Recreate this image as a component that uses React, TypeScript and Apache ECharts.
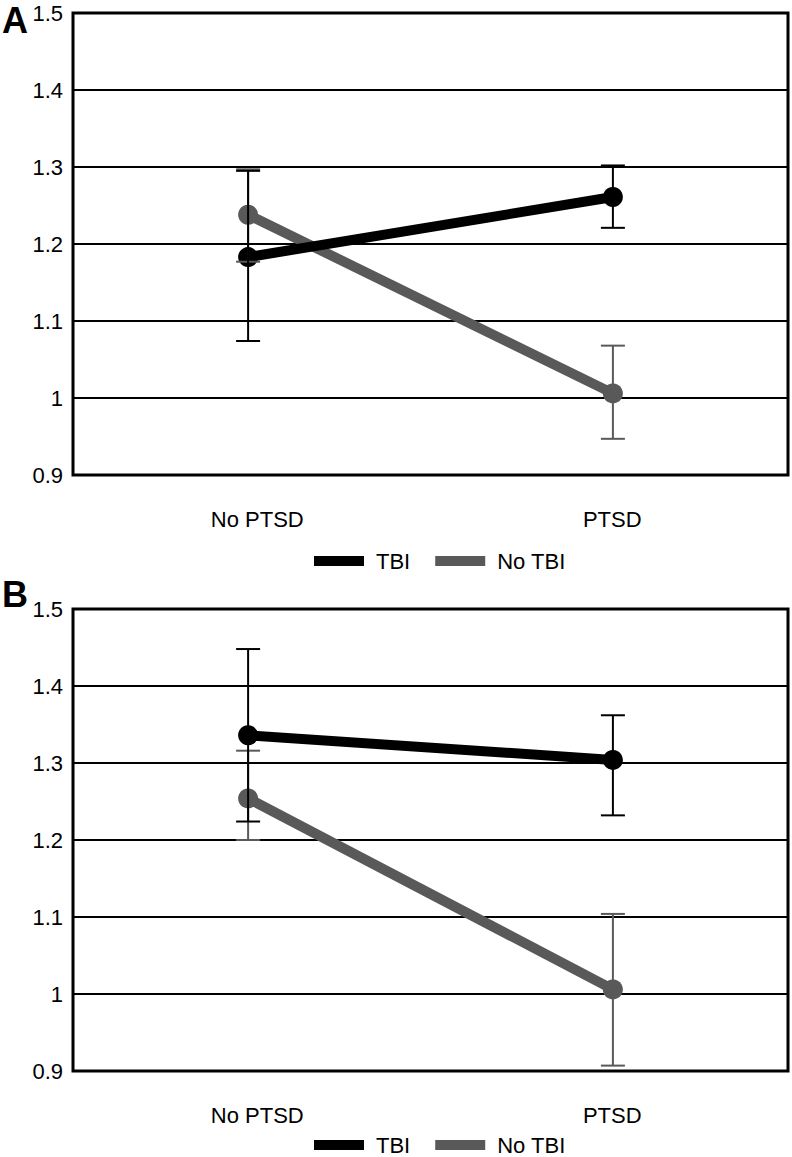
import React, { useEffect, useRef } from "react";
import * as echarts from "echarts";

const categories = ["No PTSD", "PTSD"];
const yTicks = [0.9, 1.0, 1.1, 1.2, 1.3, 1.4, 1.5];

// Panel A
const aTbi = [1.183, 1.261];
const aTbiLow = [1.074, 1.221];
const aTbiHigh = [1.295, 1.302];
const aNoTbi = [1.238, 1.006];
const aNoTbiLow = [1.177, 0.947];
const aNoTbiHigh = [1.297, 1.068];

// Panel B
const bTbi = [1.336, 1.304];
const bTbiLow = [1.224, 1.232];
const bTbiHigh = [1.448, 1.362];
const bNoTbi = [1.254, 1.006];
const bNoTbiLow = [1.2, 0.907];
const bNoTbiHigh = [1.316, 1.104];

const BLACK = "#000000";
const GRAY = "#595959";
const FONT = "'Liberation Sans', Arial, Helvetica, sans-serif";

function errData(low: number[], high: number[]) {
  return low.map((l, i) => [i, l, high[i]]);
}

// value x axes (index 2, 3) carry marks; category axes (0, 1) carry labels
function errSeries(name: string, idx: number, low: number[], high: number[], color: string, z: number) {
  return {
    type: "custom",
    name,
    xAxisIndex: idx + 2,
    yAxisIndex: idx,
    z,
    silent: true,
    encode: { x: 0, y: [1, 2] },
    data: errData(low, high),
    renderItem: (params: any, api: any) => {
      const x = api.value(0);
      const lo = api.coord([x, api.value(1)]);
      const hi = api.coord([x, api.value(2)]);
      const hw = 12;
      const st = { stroke: color, lineWidth: 2 };
      return {
        type: "group",
        children: [
          { type: "line", shape: { x1: lo[0], y1: lo[1], x2: hi[0], y2: hi[1] }, style: st },
          { type: "line", shape: { x1: lo[0] - hw, y1: lo[1], x2: lo[0] + hw, y2: lo[1] }, style: st },
          { type: "line", shape: { x1: hi[0] - hw, y1: hi[1], x2: hi[0] + hw, y2: hi[1] }, style: st },
        ],
      };
    },
  };
}

function lineSeries(name: string, idx: number, data: number[], color: string) {
  return {
    type: "line",
    name,
    xAxisIndex: idx + 2,
    yAxisIndex: idx,
    data: data.map((v, i) => [i, v]),
    z: 3,
    symbol: "circle",
    symbolSize: 20,
    itemStyle: { color },
    lineStyle: { color, width: 10 },
  };
}

export default function App() {
  const ref = useRef<HTMLDivElement>(null);
  useEffect(() => {
    if (!ref.current) return;
    const chart = echarts.init(ref.current, undefined, { renderer: "svg" });
    const tops = [13, 609];
    const grids = tops.map((t) => ({
      left: 73,
      top: t,
      width: 715,
      height: 462,
      show: true,
      borderColor: BLACK,
      borderWidth: 3,
      backgroundColor: "transparent",
    }));
    const labelText = { color: BLACK, fontSize: 22, fontFamily: FONT };
    const catAxes = [0, 1].map((i) => ({
      type: "category",
      gridIndex: i,
      data: categories,
      boundaryGap: true,
      axisLine: { show: false },
      axisTick: { show: false },
      axisLabel: {
        ...labelText,
        margin: 33,
        formatter: (v: string, k: number) => (k === 0 ? `{a|${v}}` : `{b|${v}}`),
        rich: {
          a: { ...labelText, padding: [0, 0, 0, 11] },
          b: { ...labelText, padding: [0, 0, 0, 6] },
        },
      },
      splitLine: { show: false },
    }));
    const valXAxes = [0, 1].map((i) => ({
      type: "value",
      gridIndex: i,
      min: -0.48,
      max: 1.48,
      show: false,
      splitLine: { show: false },
    }));
    const yAxes = [0, 1].map((i) => ({
      type: "value",
      gridIndex: i,
      min: yTicks[0],
      max: yTicks[yTicks.length - 1],
      interval: 0.1,
      axisLine: { show: false },
      axisTick: { show: false },
      axisLabel: {
        ...labelText,
        margin: 10,
        formatter: (v: number) => String(+v.toFixed(1)),
      },
      splitLine: { show: true, lineStyle: { color: BLACK, width: 2 } },
    }));
    const legendBase = {
      orient: "horizontal",
      itemWidth: 50,
      itemHeight: 10,
      itemGap: 25,
      icon: "rect",
      padding: 0,
      textStyle: { color: BLACK, fontSize: 22, lineHeight: 16, fontFamily: FONT, padding: [0, 0, 0, 7] },
      data: [
        { name: "TBI", itemStyle: { color: BLACK } },
        { name: "No TBI", itemStyle: { color: GRAY } },
      ],
      selectedMode: false,
    };
    chart.setOption({
      animation: false,
      backgroundColor: "#ffffff",
      grid: grids,
      xAxis: [...catAxes, ...valXAxes],
      yAxis: yAxes,
      legend: [
        { ...legendBase, left: 314, top: 550 },
        { ...legendBase, left: 314, top: 1134 },
      ],
      graphic: [
        { type: "text", left: 2, top: 2, style: { text: "A", fontSize: 36, fontWeight: "bold", fontFamily: FONT, fill: BLACK } },
        { type: "text", left: 2, top: 576, style: { text: "B", fontSize: 36, fontWeight: "bold", fontFamily: FONT, fill: BLACK } },
      ],
      series: [
        lineSeries("No TBI", 0, aNoTbi, GRAY),
        lineSeries("TBI", 0, aTbi, BLACK),
        errSeries("No TBI", 0, aNoTbiLow, aNoTbiHigh, GRAY, 4),
        errSeries("TBI", 0, aTbiLow, aTbiHigh, BLACK, 5),
        lineSeries("No TBI", 1, bNoTbi, GRAY),
        lineSeries("TBI", 1, bTbi, BLACK),
        errSeries("No TBI", 1, bNoTbiLow, bNoTbiHigh, GRAY, 4),
        errSeries("TBI", 1, bTbiLow, bTbiHigh, BLACK, 5),
      ],
    });
    return () => chart.dispose();
  }, []);
  return (
    <div
      ref={ref}
      style={{ position: "absolute", left: 0, top: 0, width: 792, height: 1157, background: "#fff" }}
    />
  );
}
